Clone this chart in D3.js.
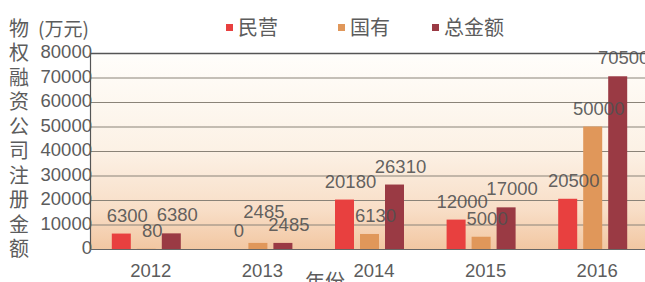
<!DOCTYPE html>
<html><head><meta charset="utf-8">
<script src="https://cdn.jsdelivr.net/npm/d3@7/dist/d3.min.js"></script>
<style>
html,body{margin:0;padding:0;background:#fff;}
svg{display:block;}
</style></head>
<body>
<svg id="chart" width="645" height="282"></svg>
<script>
// ---- data ----
const years = ["2012", "2013", "2014", "2015", "2016"];
const seriesNames = ["民营", "国有", "总金额"];
const privateVals = [6300, 0, 20180, 12000, 20500];
const stateVals = [80, 2485, 6130, 5000, 50000];
const totalVals = [6380, 2485, 26310, 17000, 70500];
const yTicks = [0, 10000, 20000, 30000, 40000, 50000, 60000, 70000, 80000];
const yTitleChars = ["物", "权", "融", "资", "公", "司", "注", "册", "金", "额"];
const unitLabel = "(万元)";
const xTitle = "年份";

// ---- layout / style ----
const colors = ["#e8403f", "#e0975a", "#9a3a44"];
const legendX = [226, 338, 432];
const pLeft = 90, pRight = 648, pTop = 53, pBottom = 249;
const numFont = "'Liberation Sans', Arial, sans-serif";
const cjkFont = "'Noto Sans CJK SC', sans-serif";
const textColor = "#5c5c5c";

const svg = d3.select("#chart");
const seriesVals = [privateVals, stateVals, totalVals];

const x = d3.scaleBand().domain(years).range([pLeft, pRight]).paddingInner(0).paddingOuter(0);
const xs = d3.scaleBand().domain(seriesNames).range([-37, 38]).paddingInner(0.24).paddingOuter(0.12);
const y = d3.scaleLinear().domain([0, 80000]).range([pBottom, pTop]);

// background gradient
const defs = svg.append("defs");
const grad = defs.append("linearGradient").attr("id", "bg").attr("x1", 0).attr("y1", 0).attr("x2", 0).attr("y2", 1);
grad.append("stop").attr("offset", "0%").attr("stop-color", "#fffefb");
grad.append("stop").attr("offset", "50%").attr("stop-color", "#fcf1e5");
grad.append("stop").attr("offset", "80%").attr("stop-color", "#f8dec7");
grad.append("stop").attr("offset", "100%").attr("stop-color", "#f2c7a2");
svg.append("rect").attr("x", pLeft).attr("y", pTop).attr("width", pRight - pLeft).attr("height", pBottom - pTop).attr("fill", "url(#bg)");

// gridlines
svg.append("g").selectAll("line").data(yTicks.filter(t => t > 0)).join("line")
  .attr("x1", pLeft).attr("x2", pRight)
  .attr("y1", d => y(d) + 0.5).attr("y2", d => y(d) + 0.5)
  .attr("stroke", d => d === 80000 ? "#555" : "#8a8378").attr("stroke-width", d => d === 80000 ? 1.3 : 1);

// y axis
const yAxis = d3.axisLeft(y).tickValues(yTicks).tickSize(0).tickPadding(0).tickFormat(d3.format("d"));
const gy = svg.append("g").attr("transform", `translate(${pLeft + 2},0)`).call(yAxis);
gy.select(".domain").remove();
gy.selectAll("text").attr("font-family", numFont).attr("font-size", 18.5).attr("fill", textColor).attr("dy", "0.25em");
svg.append("line").attr("x1", pLeft + 0.5).attr("x2", pLeft + 0.5).attr("y1", pTop).attr("y2", pBottom).attr("stroke", "#555").attr("stroke-width", 1.2);

// bars
const groups = svg.append("g").selectAll("g").data(years).join("g")
  .attr("transform", d => `translate(${x(d) + x.bandwidth() / 2},0)`);
const barData = (yr, i) => seriesNames.map((s, j) => ({ s, j, v: seriesVals[j][i] }));
groups.selectAll("rect").data((d, i) => barData(d, i)).join("rect")
  .attr("x", d => xs(d.s)).attr("width", xs.bandwidth())
  .attr("y", d => y(d.v)).attr("height", d => y(0) - y(d.v))
  .attr("fill", d => colors[d.j]);

// x baseline
svg.append("line").attr("x1", pLeft).attr("x2", pRight).attr("y1", pBottom + 0.5).attr("y2", pBottom + 0.5).attr("stroke", "#666").attr("stroke-width", 1.2);

// value labels with simple collision bump
groups.each(function (yr, i) {
  const g = d3.select(this);
  const items = barData(yr, i).map(d => {
    const t = g.append("text").text(d.v)
      .attr("font-family", numFont).attr("font-size", 18.5).attr("fill", "#505050")
      .attr("text-anchor", "middle").attr("fill-opacity", 0.9);
    const cx = xs(d.s) + xs.bandwidth() / 2 + 6;
    const by = y(d.v) - 12;
    const w = t.node().getComputedTextLength();
    return { t, cx, by, w };
  });
  for (let a = items.length - 2; a >= 0; a--) {
    const A = items[a], B = items[a + 1];
    const xo = Math.min(A.cx + A.w / 2, B.cx + B.w / 2) - Math.max(A.cx - A.w / 2, B.cx - B.w / 2);
    const yo = 13 - Math.abs(A.by - B.by);
    if (xo > 5 && yo > 0) A.by = B.by - 13;
  }
  items.forEach(o => o.t.attr("x", o.cx).attr("y", o.by));
});

// x axis labels
const xAxis = d3.axisBottom(x).tickSize(0).tickPadding(0);
const gx = svg.append("g").attr("transform", `translate(5,${pBottom})`).call(xAxis);
gx.select(".domain").remove();
gx.selectAll("text").attr("font-family", numFont).attr("font-size", 18.5).attr("fill", textColor).attr("dy", null).attr("y", 28);

svg.append("text").text(xTitle).attr("x", 305).attr("y", 289)
  .attr("font-family", cjkFont).attr("font-size", 20).attr("fill", textColor);

// y title (vertical chars aligned with tick rows)
const step = y(0) - y(10000);
svg.append("g").selectAll("text").data(yTitleChars).join("text")
  .text(d => d).attr("x", 9).attr("y", (d, i) => y(80000) + (i - 1) * step + 7)
  .attr("font-family", cjkFont).attr("font-size", 20).attr("fill", textColor);
svg.append("text").text(unitLabel).attr("x", 38).attr("y", y(80000) - step + 7)
  .attr("font-family", cjkFont).attr("font-size", 19).attr("fill", textColor);

// legend
const lg = svg.append("g").selectAll("g").data(seriesNames).join("g")
  .attr("transform", (d, i) => `translate(${legendX[i]},0)`);
lg.append("rect").attr("x", 0).attr("y", 24).attr("width", 7).attr("height", 7).attr("fill", (d, i) => colors[i]);
lg.append("text").text(d => d).attr("x", 12).attr("y", 35)
  .attr("font-family", cjkFont).attr("font-size", 20).attr("fill", textColor);
</script>
</body></html>
